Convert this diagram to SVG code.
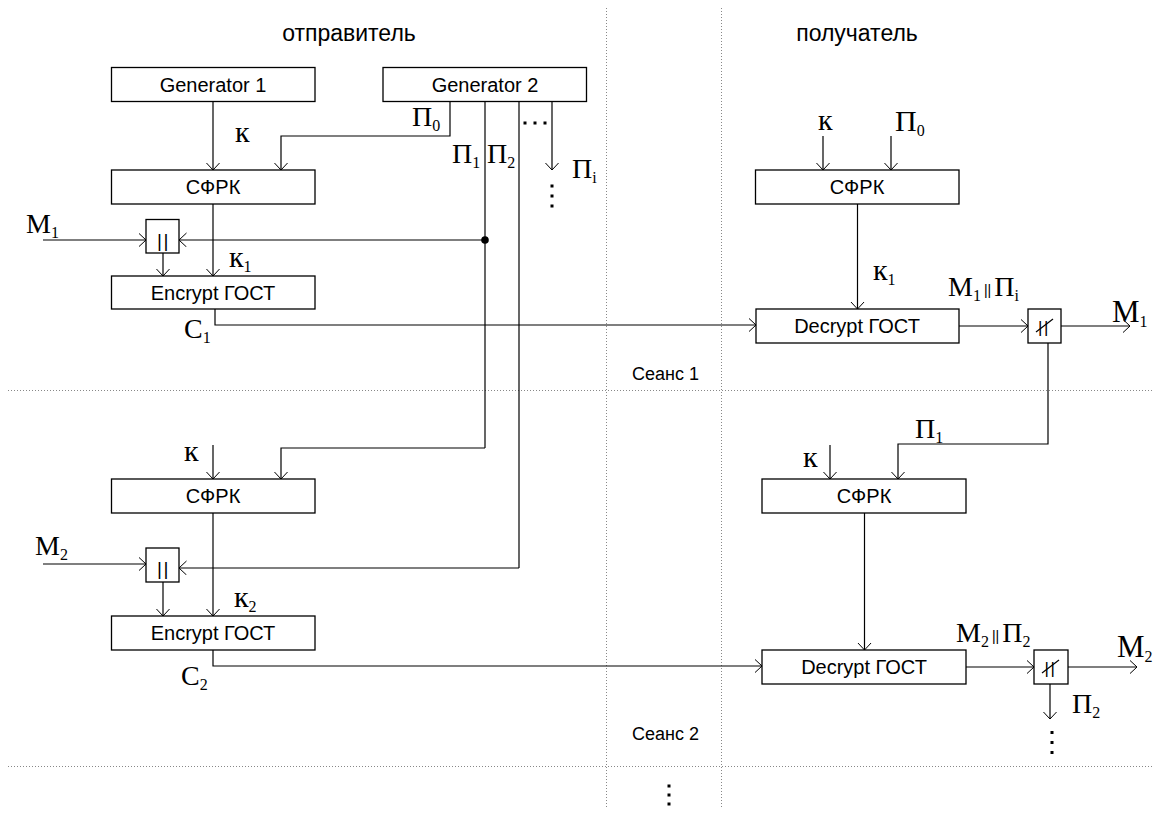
<svg xmlns="http://www.w3.org/2000/svg" width="1153" height="813" viewBox="0 0 1153 813">
<defs>
<marker id="arr" markerUnits="userSpaceOnUse" markerWidth="10" markerHeight="16" refX="7.5" refY="7" orient="auto">
<path d="M0,0 L7.5,7 L0,14" fill="none" stroke="#000" stroke-width="1"/>
</marker>
<style>
.box{fill:#fff;stroke:#000;stroke-width:1.3}
.bt{font-family:"Liberation Sans",Arial,sans-serif;font-size:20px;text-anchor:middle;fill:#000}
.ln{fill:none;stroke:#000;stroke-width:1.2}
.ar{fill:none;stroke:#000;stroke-width:1.2;marker-end:url(#arr)}
.dot{fill:none;stroke:#888;stroke-width:1;stroke-dasharray:1 2}
.m{font-family:"Liberation Serif","Times New Roman",serif;font-size:28px;fill:#000}
.k{font-size:30px}
.s{font-size:16px}
.t{font-family:"Liberation Sans",Arial,sans-serif;font-size:23px;fill:#000;text-anchor:middle}
.se{font-family:"Liberation Sans",Arial,sans-serif;font-size:18px;fill:#000}
.bars{font-family:"Liberation Sans",Arial,sans-serif;font-size:19px;letter-spacing:1.5px;text-anchor:middle;fill:#000}
.slash{stroke:#000;stroke-width:1.2}
.pp{font-family:"Liberation Sans",Arial,sans-serif;font-size:14px}
</style>
</defs>
<rect width="1153" height="813" fill="#fff"/>

<g id="grid">
<line class="dot" x1="606.5" y1="8" x2="606.5" y2="808"/>
<line class="dot" x1="721.5" y1="8" x2="721.5" y2="808"/>
<line class="dot" x1="8" y1="390.5" x2="1153" y2="390.5"/>
<line class="dot" x1="8" y1="766.5" x2="1153" y2="766.5"/>
</g>

<g id="titles">
<text class="t" x="349" y="41">отправитель</text>
<text class="t" x="857" y="41">получатель</text>
<text class="se" x="632" y="380">Сеанс 1</text>
<text class="se" x="632" y="740">Сеанс 2</text>
</g>

<g id="connectors">
<line class="ar" x1="213" y1="102" x2="213" y2="170"/>
<polyline class="ar" points="450,102 450,136 281,136 281,170"/>
<line class="ln" x1="485" y1="102" x2="485" y2="448"/>
<line class="ln" x1="519" y1="102" x2="519" y2="568"/>
<line class="ar" x1="552" y1="102" x2="552" y2="170"/>
<line class="ar" x1="43" y1="240" x2="146" y2="240"/>
<line class="ar" x1="485" y1="240" x2="179" y2="240"/>
<line class="ar" x1="163" y1="253" x2="163" y2="276"/>
<line class="ar" x1="213" y1="204" x2="213" y2="276"/>
<polyline class="ar" points="215,309 215,325 756,325"/>
<line class="ar" x1="823" y1="136" x2="823" y2="170"/>
<line class="ar" x1="891" y1="136" x2="891" y2="170"/>
<line class="ar" x1="857.5" y1="204" x2="857.5" y2="309"/>
<line class="ar" x1="959" y1="326" x2="1028" y2="326"/>
<line class="ar" x1="1061" y1="326" x2="1130" y2="326"/>
<polyline class="ar" points="1048,343 1048,444 898,444 898,479"/>
<line class="ar" x1="213" y1="445" x2="213" y2="479"/>
<polyline class="ar" points="485,448 281,448 281,479"/>
<line class="ar" x1="43" y1="564" x2="146" y2="564"/>
<polyline class="ar" points="519,568 179,568"/>
<line class="ar" x1="163" y1="582" x2="163" y2="616"/>
<line class="ar" x1="213" y1="513" x2="213" y2="616"/>
<polyline class="ar" points="213,650 213,666 762,666"/>
<line class="ar" x1="830" y1="445" x2="830" y2="479"/>
<line class="ar" x1="864.5" y1="513" x2="864.5" y2="650"/>
<line class="ar" x1="966" y1="667" x2="1034" y2="667"/>
<line class="ar" x1="1068" y1="667" x2="1137" y2="667"/>
<line class="ar" x1="1050" y1="684" x2="1050" y2="719"/>
<circle cx="485" cy="240" r="3.8" fill="#000"/>
</g>

<g id="gen1"><rect class="box" x="111.5" y="67.5" width="203.5" height="34"/><text class="bt" x="213" y="92">Generator 1</text></g>
<g id="gen2"><rect class="box" x="383" y="67.5" width="203.5" height="34"/><text class="bt" x="485" y="92">Generator 2</text></g>
<g id="sfrk1"><rect class="box" x="111.5" y="170" width="203.5" height="34"/><text class="bt" x="213" y="194">СФРК</text></g>
<g id="concat1"><rect class="box" x="146" y="219.5" width="33" height="33.5"/><text class="bars" x="163.5" y="247">||</text></g>
<g id="enc1"><rect class="box" x="111.5" y="276" width="203.5" height="33"/><text class="bt" x="213" y="300">Encrypt ГОСТ</text></g>

<g id="sfrk1r"><rect class="box" x="755.5" y="170" width="203.5" height="34"/><text class="bt" x="857" y="194">СФРК</text></g>
<g id="dec1"><rect class="box" x="756" y="309" width="203" height="34"/><text class="bt" x="857" y="333">Decrypt ГОСТ</text></g>
<g id="split1"><rect class="box" x="1028" y="309" width="33" height="34"/><text class="bars" x="1044" y="333" style="font-size:17px">||</text><line class="slash" x1="1036" y1="332" x2="1053" y2="319"/></g>

<g id="sfrk2"><rect class="box" x="111.5" y="479" width="203.5" height="34"/><text class="bt" x="213" y="503">СФРК</text></g>
<g id="concat2"><rect class="box" x="146" y="548" width="33" height="34"/><text class="bars" x="163.5" y="575">||</text></g>
<g id="enc2"><rect class="box" x="111.5" y="616" width="203.5" height="34"/><text class="bt" x="213" y="640">Encrypt ГОСТ</text></g>

<g id="sfrk2r"><rect class="box" x="762" y="479" width="204" height="34"/><text class="bt" x="864" y="503">СФРК</text></g>
<g id="dec2"><rect class="box" x="762" y="650" width="204" height="34"/><text class="bt" x="864" y="674">Decrypt ГОСТ</text></g>
<g id="split2"><rect class="box" x="1034" y="650" width="34" height="34"/><text class="bars" x="1050.5" y="674" style="font-size:17px">||</text><line class="slash" x1="1042" y1="673" x2="1059" y2="660"/></g>

<g id="labels">
<text class="m k" x="235" y="142">к</text>
<text class="m" x="412" y="126">П<tspan class="s" dy="5">0</tspan></text>
<text class="m" x="452" y="163">П<tspan class="s" dy="5">1</tspan></text>
<text class="m" x="487" y="163">П<tspan class="s" dy="5">2</tspan></text>
<text class="m" x="572" y="178">П<tspan class="s" dy="5">i</tspan></text>
<text class="m" x="26" y="233">M<tspan class="s" dy="5">1</tspan></text>
<text class="m" x="229" y="267"><tspan class="k">к</tspan><tspan class="s" dy="5">1</tspan></text>
<text class="m" x="184" y="338">C<tspan class="s" dy="5">1</tspan></text>

<text class="m k" x="818" y="130">к</text>
<text class="m" x="895" y="131" style="font-size:30px">П<tspan class="s" dy="5">0</tspan></text>
<text class="m" x="873" y="280"><tspan class="k">к</tspan><tspan class="s" dy="5">1</tspan></text>
<text class="m" x="948" y="296">M<tspan class="s" dy="5">1</tspan><tspan class="pp" dy="-6" dx="3">||</tspan><tspan dy="1" dx="3">П</tspan><tspan class="s" dy="5">i</tspan></text>
<text class="m" x="1112" y="322" style="font-size:31px">M<tspan class="s" dy="5">1</tspan></text>
<text class="m" x="915" y="438">П<tspan class="s" dy="5">1</tspan></text>

<text class="m k" x="184" y="461">к</text>
<text class="m" x="35" y="555">M<tspan class="s" dy="5">2</tspan></text>
<text class="m" x="234" y="607"><tspan class="k">к</tspan><tspan class="s" dy="5">2</tspan></text>
<text class="m" x="181" y="685">C<tspan class="s" dy="5">2</tspan></text>

<text class="m k" x="803" y="467">к</text>
<text class="m" x="956" y="642">M<tspan class="s" dy="5">2</tspan><tspan class="pp" dy="-6" dx="3">||</tspan><tspan dy="1" dx="3">П</tspan><tspan class="s" dy="5">2</tspan></text>
<text class="m" x="1117" y="657" style="font-size:31px">M<tspan class="s" dy="5">2</tspan></text>
<text class="m" x="1072" y="713">П<tspan class="s" dy="5">2</tspan></text>
</g>

<g id="ellipses" fill="#000">
<rect x="523.5" y="121.5" width="3" height="3"/><rect x="533.5" y="121.5" width="3" height="3"/><rect x="543.5" y="121.5" width="3" height="3"/>
<rect x="550.5" y="184.5" width="3" height="3"/><rect x="550.5" y="194.5" width="3" height="3"/><rect x="550.5" y="204.5" width="3" height="3"/>
<rect x="1050.5" y="731" width="3" height="3"/><rect x="1050.5" y="741" width="3" height="3"/><rect x="1050.5" y="751" width="3" height="3"/>
<rect x="667.5" y="784.5" width="3" height="3"/><rect x="667.5" y="793.5" width="3" height="3"/><rect x="667.5" y="802.5" width="3" height="3"/>
</g>
</svg>
